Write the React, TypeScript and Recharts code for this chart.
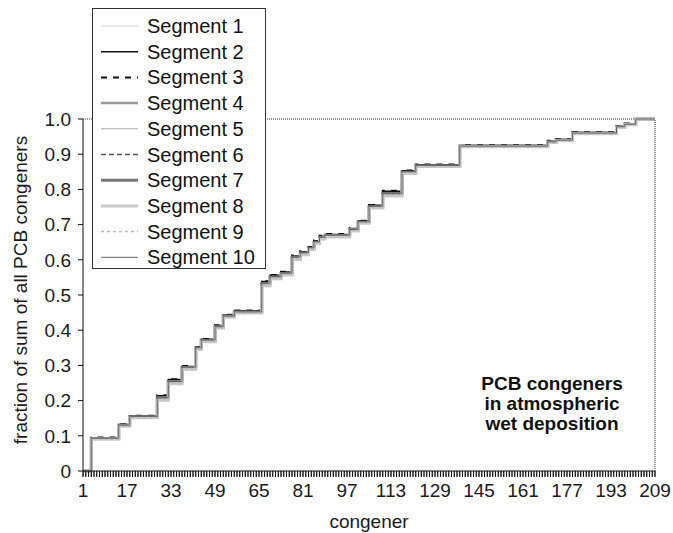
import React from "react";
import { Line, LineChart, ReferenceLine, XAxis, YAxis } from "recharts";

// the picture is taken of #root, so drop the default body margin and draw the margin ourselves
if (typeof document !== "undefined") document.body.style.margin = "0";

// congener numbers where the cumulative fraction changes
const congeners = [1, 4, 14, 18, 28, 32, 37, 42, 44, 49, 52, 56, 66, 69, 73, 77, 80, 83, 85, 87, 89, 98, 101, 105, 110, 117, 122, 138, 170, 173, 179, 195, 198, 202, 209];

const seg1 = [0, 0.09, 0.126, 0.15, 0.2, 0.247, 0.288, 0.344, 0.366, 0.405, 0.436, 0.448, 0.524, 0.545, 0.556, 0.6, 0.612, 0.628, 0.645, 0.658, 0.664, 0.681, 0.703, 0.746, 0.78, 0.844, 0.864, 0.92, 0.932, 0.938, 0.958, 0.976, 0.984, 1, 1];
const seg2 = [0, 0.094, 0.132, 0.156, 0.214, 0.26, 0.297, 0.352, 0.374, 0.413, 0.443, 0.455, 0.538, 0.556, 0.565, 0.611, 0.623, 0.637, 0.654, 0.667, 0.672, 0.689, 0.71, 0.755, 0.795, 0.853, 0.87, 0.925, 0.937, 0.942, 0.962, 0.979, 0.986, 1, 1];
const seg3 = [0, 0.095, 0.133, 0.157, 0.215, 0.261, 0.298, 0.353, 0.375, 0.414, 0.444, 0.456, 0.539, 0.557, 0.566, 0.612, 0.624, 0.638, 0.655, 0.668, 0.673, 0.69, 0.711, 0.756, 0.796, 0.854, 0.871, 0.926, 0.938, 0.943, 0.963, 0.98, 0.987, 1, 1];
const seg4 = [0, 0.092, 0.129, 0.153, 0.203, 0.25, 0.29, 0.346, 0.369, 0.408, 0.438, 0.45, 0.528, 0.548, 0.558, 0.603, 0.616, 0.63, 0.648, 0.661, 0.667, 0.684, 0.705, 0.749, 0.783, 0.847, 0.866, 0.922, 0.934, 0.939, 0.959, 0.977, 0.985, 1, 1];
const seg5 = [0, 0.093, 0.13, 0.154, 0.206, 0.252, 0.292, 0.348, 0.37, 0.409, 0.439, 0.451, 0.531, 0.55, 0.56, 0.605, 0.618, 0.632, 0.65, 0.663, 0.669, 0.685, 0.707, 0.75, 0.786, 0.849, 0.867, 0.923, 0.935, 0.94, 0.96, 0.978, 0.985, 1, 1];
const seg6 = [0, 0.093, 0.131, 0.155, 0.21, 0.256, 0.295, 0.35, 0.372, 0.411, 0.441, 0.453, 0.535, 0.553, 0.563, 0.608, 0.62, 0.634, 0.651, 0.664, 0.67, 0.687, 0.708, 0.752, 0.79, 0.85, 0.868, 0.924, 0.936, 0.941, 0.961, 0.978, 0.986, 1, 1];
const seg7 = [0, 0.092, 0.13, 0.154, 0.208, 0.254, 0.294, 0.349, 0.371, 0.41, 0.44, 0.452, 0.533, 0.551, 0.561, 0.607, 0.619, 0.633, 0.65, 0.663, 0.669, 0.686, 0.707, 0.751, 0.788, 0.849, 0.867, 0.923, 0.935, 0.94, 0.96, 0.978, 0.985, 1, 1];
const seg8 = [0, 0.09, 0.127, 0.151, 0.201, 0.248, 0.289, 0.345, 0.367, 0.406, 0.437, 0.449, 0.526, 0.546, 0.557, 0.601, 0.614, 0.629, 0.646, 0.659, 0.665, 0.682, 0.704, 0.747, 0.781, 0.845, 0.865, 0.921, 0.933, 0.938, 0.958, 0.976, 0.984, 1, 1];
const seg9 = [0, 0.091, 0.128, 0.152, 0.204, 0.251, 0.291, 0.347, 0.368, 0.407, 0.438, 0.45, 0.529, 0.549, 0.559, 0.604, 0.617, 0.631, 0.649, 0.662, 0.668, 0.684, 0.706, 0.749, 0.785, 0.848, 0.866, 0.922, 0.934, 0.939, 0.959, 0.977, 0.985, 1, 1];
const seg10 = [0, 0.093, 0.13, 0.155, 0.209, 0.255, 0.295, 0.35, 0.372, 0.41, 0.44, 0.452, 0.534, 0.552, 0.562, 0.608, 0.62, 0.634, 0.651, 0.664, 0.67, 0.686, 0.708, 0.752, 0.789, 0.85, 0.868, 0.923, 0.935, 0.94, 0.96, 0.978, 0.985, 1, 1];

const majorTicks = [1, 17, 33, 49, 65, 81, 97, 113, 129, 145, 161, 177, 193, 209];
const yTicks = [0, 0.1, 0.2, 0.3, 0.4, 0.5, 0.6, 0.7, 0.8, 0.9, 1.0];
const allTicks = Array.from({ length: 209 }, (_, i) => i + 1);

const seriesValues = [seg1, seg2, seg3, seg4, seg5, seg6, seg7, seg8, seg9, seg10];

const styles = [
  { stroke: "#d4d4d4", width: 1, dash: undefined },
  { stroke: "#111111", width: 1.5, dash: undefined },
  { stroke: "#111111", width: 2, dash: "6 6" },
  { stroke: "#999999", width: 2.5, dash: undefined },
  { stroke: "#aaaaaa", width: 1, dash: undefined },
  { stroke: "#555555", width: 1.5, dash: "5 3" },
  { stroke: "#777777", width: 3, dash: undefined },
  { stroke: "#c8c8c8", width: 3, dash: undefined },
  { stroke: "#bbbbbb", width: 1.5, dash: "3 3" },
  { stroke: "#666666", width: 1, dash: undefined },
];

const data = congeners.map((c, i) => {
  const row: Record<string, number> = { c };
  seriesValues.forEach((s, k) => (row[`s${k + 1}`] = s[i]));
  return row;
});

const FONT = "'Liberation Sans', Arial, sans-serif";

// every congener gets a tick mark, only every 16th gets a label
const XTick = ({ x, y, payload }: any) =>
  majorTicks.includes(payload.value) ? (
    <text x={x} y={y} dy="0.71em" textAnchor="middle" fontSize={19} fill="#1a1a1a" fontFamily={FONT}>
      {payload.value}
    </text>
  ) : (
    <g />
  );

export default function App() {
  return (
    <div style={{ position: "relative", width: 673, height: 533, fontFamily: FONT, background: "#fff" }}>
      <LineChart width={673} height={533} data={data} margin={{ top: 119, right: 18, bottom: 22, left: 38 }}>
        <XAxis
          dataKey="c"
          type="number"
          domain={[1, 209]}
          ticks={allTicks}
          interval={0}
          tick={<XTick />}
          tickSize={6}
          tickMargin={7}
          height={40}
          stroke="#111"
          tickLine={{ stroke: "#111", strokeWidth: 1 }}
          label={{
            content: () => (
              <text x={369} y={521} textAnchor="middle" dominantBaseline="central" fontSize={19} fill="#1a1a1a" fontFamily={FONT}>
                congener
              </text>
            ),
          }}
        />
        <YAxis
          type="number"
          domain={[0, 1]}
          ticks={yTicks}
          interval={0}
          width={45}
          tickSize={5}
          tickMargin={7}
          stroke="#111"
          tickLine={{ stroke: "#111" }}
          tick={{ fontSize: 19, fill: "#1a1a1a", fontFamily: FONT }}
          tickFormatter={(v: number) => (v === 0 ? "0" : v.toFixed(1))}
          label={{
            content: () => (
              <text x={20} y={290} transform="rotate(-90 20 290)" textAnchor="middle" dominantBaseline="central" fontSize={19} fill="#1a1a1a" fontFamily={FONT}>
                fraction of sum of all PCB congeners
              </text>
            ),
          }}
        />
        <ReferenceLine y={1} stroke="#333" strokeDasharray="1 1" />
        <ReferenceLine x={209} stroke="#333" strokeDasharray="1 1" />
        {/* dense per-congener tick marks under the x axis */}
        {allTicks.map((c) => (
          <ReferenceLine
            key={`t${c}`}
            segment={[
              { x: c, y: 0 },
              { x: c, y: -0.016 },
            ]}
            ifOverflow="visible"
            stroke="#444"
            strokeWidth={1}
          />
        ))}
        {styles.map((s, k) => (
          <Line
            key={k}
            type="stepAfter"
            dataKey={`s${k + 1}`}
            stroke={s.stroke}
            strokeWidth={s.width}
            strokeDasharray={s.dash}
            dot={false}
            isAnimationActive={false}
          />
        ))}
      </LineChart>

      {/* legend box overlapping the plot */}
      <div
        style={{
          position: "absolute",
          left: 92,
          top: 8,
          width: 174,
          height: 261,
          border: "1px solid #333",
          background: "#fff",
          boxSizing: "border-box",
        }}
      >
        <svg width={172} height={259} style={{ display: "block" }}>
          {styles.map((s, k) => {
            const y = 17 + k * 25.7;
            return (
              <g key={k}>
                <line x1={8} x2={45} y1={y} y2={y} stroke={s.stroke} strokeWidth={s.width} strokeDasharray={s.dash} />
                <text x={54} y={y} dominantBaseline="central" fontSize={20} fill="#111" fontFamily={FONT}>
                  Segment {k + 1}
                </text>
              </g>
            );
          })}
        </svg>
      </div>

      <div
        style={{
          position: "absolute",
          left: 452,
          top: 374,
          width: 200,
          textAlign: "center",
          fontWeight: "bold",
          fontSize: 19,
          lineHeight: "20px",
          color: "#111",
        }}
      >
        PCB congeners
        <br />
        in atmospheric
        <br />
        wet deposition
      </div>
    </div>
  );
}
